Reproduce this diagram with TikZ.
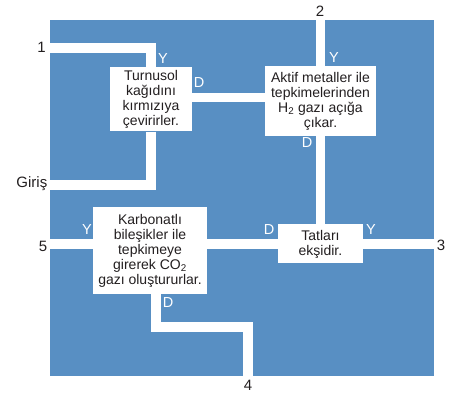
\documentclass[tikz,border=0pt]{standalone}
\usepackage{fontspec}
\setmainfont{Liberation Sans}
\definecolor{maze}{RGB}{88,143,195}
\definecolor{ink}{RGB}{35,31,32}
\begin{document}
\begin{tikzpicture}[x=1pt,y=1pt,
  box/.style={fill=white,align=center,inner sep=0pt,text=ink,font=\fontsize{14}{15}\selectfont},
  way/.style={white,line width=9.5pt,line join=miter},
  ans/.style={white,inner sep=0pt,font=\fontsize{14.5}{15}\selectfont},
  gate/.style={text=ink,inner sep=0pt,font=\fontsize{15}{15}\selectfont}]
\useasboundingbox (0,0) rectangle (456,-395);
\fill [maze] (50,-20) rectangle (434,-376);
% boxes
\node [box,minimum width=82,minimum height=64] (turnusol) at (151,-99.5) {Turnusol\\kağıdını\\kırmızıya\\çevirirler.};
\node [box,minimum width=111,minimum height=70] (aktif) at (320.5,-101) {Aktif metaller ile\\tepkimelerinden\\H\textsubscript{2} gazı açığa\\çıkar.};
\node [box,minimum width=85,minimum height=39] (tatlar) at (320.5,-244) {Tatları\\ekşidir.};
\node [box,minimum width=114,minimum height=87] (karbonat) at (150,-250.5) {Karbonatlı\\bileşikler ile\\tepkimeye\\girerek CO\textsubscript{2}\\gazı oluştururlar.};
% ends of the ways
\coordinate (in1) at (50,-48);
\coordinate (giris) at (50,-185);
\coordinate (out2) at (320.5,-20);
\coordinate (out3) at (434,-244);
\coordinate (out4) at (248,-376);
\coordinate (out5) at (50,-244);
% ways
\draw [way] (in1) -| (turnusol) |- (giris);
\draw [way] ([yshift=2]turnusol.east) -- ([yshift=2]turnusol.east -| aktif.west);
\draw [way] (out2) -- (aktif) -- (tatlar);
\draw [way] (out5) -- (out5 -| karbonat.west);
\draw [way] (karbonat.east |- out5) -- (tatlar) -- (out3);
\draw [way] ([xshift=6]karbonat.south) |- ([yshift=49]out4) -- (out4);
% gates
\node [gate,anchor=east] (g1) at (46,-47) {1};
\node [gate,anchor=east] (ggiris) at (47.5,-184) {Giriş};
\node [gate] (g2) at (320,-11) {2};
\node [gate] (g3) at (441,-245) {3};
\node [gate] (g4) at (248,-385) {4};
\node [gate,anchor=east] (g5) at (47.5,-246) {5};
% answers
\node [ans] (y1) at (163,-59) {Y};
\node [ans] (d1) at (199,-83) {D};
\node [ans] (y2) at (334,-58) {Y};
\node [ans] (d2) at (307,-143) {D};
\node [ans] (d3) at (269,-230) {D};
\node [ans] (y3) at (371,-230) {Y};
\node [ans] (y5) at (87,-230) {Y};
\node [ans] (d4) at (168,-303) {D};
\end{tikzpicture}
\end{document}
